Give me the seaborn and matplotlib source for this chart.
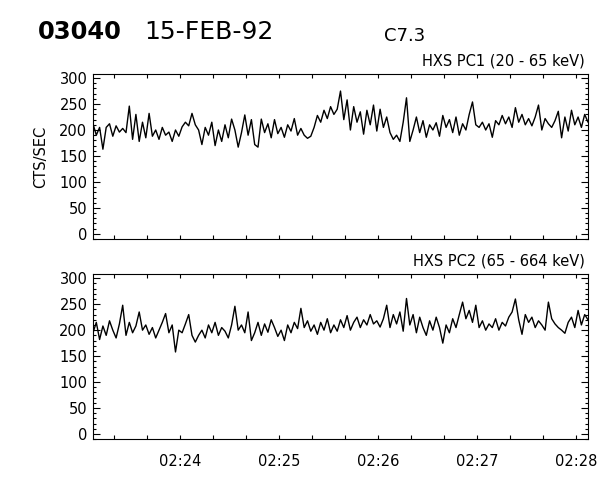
import numpy as np
import pandas as pd
import matplotlib
matplotlib.use('Agg')
import matplotlib.pyplot as plt
import seaborn as sns
from matplotlib.ticker import MultipleLocator, FuncFormatter

# header / panel text
orbit = '03040'
date = '15-FEB-92'
goes_class = 'C7.3'
title_pc1 = 'HXS PC1 (20 - 65 keV)'
title_pc2 = 'HXS PC2 (65 - 664 keV)'

# count rates (cts/sec), 2 s bins starting 02:23:07
pc1 = [212, 190, 205, 163, 205, 212, 188, 208, 196, 203,
       195, 246, 182, 230, 178, 215, 185, 232, 188, 200,
       182, 205, 190, 196, 178, 200, 188, 206, 215, 208,
       232, 210, 200, 172, 205, 190, 215, 170, 200, 178,
       210, 185, 221, 200, 167, 195, 229, 190, 220, 172,
       167, 221, 195, 212, 185, 220, 193, 205, 186, 210,
       198, 222, 190, 203, 190, 184, 188, 205, 228, 215,
       238, 222, 245, 230, 240, 275, 220, 258, 200, 245,
       215, 235, 192, 238, 210, 248, 198, 240, 205, 225,
       195, 182, 190, 178, 215, 262, 178, 200, 225, 195,
       218, 186, 210, 200, 214, 188, 228, 205, 220, 195,
       225, 190, 212, 200, 230, 254, 210, 205, 215, 200,
       212, 186, 218, 210, 228, 212, 225, 205, 243, 215,
       230, 210, 222, 208, 225, 248, 200, 222, 212, 205,
       218, 236, 185, 225, 198, 238, 210, 225, 205, 230,
       215]

pc2 = [195, 215, 182, 208, 190, 218, 200, 185, 212, 248,
       190, 215, 195, 208, 235, 200, 210, 192, 205, 185,
       200, 215, 232, 195, 210, 158, 200, 195, 212, 230,
       190, 177, 190, 200, 185, 210, 195, 215, 190, 205,
       198, 185, 210, 246, 200, 210, 195, 235, 180, 195,
       215, 190, 212, 196, 220, 205, 188, 200, 180, 210,
       195, 215, 203, 242, 205, 218, 198, 210, 192, 215,
       200, 222, 195, 210, 198, 220, 205, 228, 200, 215,
       225, 205, 220, 210, 230, 212, 218, 206, 222, 248,
       205, 230, 212, 235, 198, 261, 210, 230, 195, 225,
       205, 190, 218, 200, 225, 205, 175, 210, 195, 222,
       205, 230, 254, 222, 238, 215, 248, 205, 218, 200,
       212, 205, 222, 200, 215, 208, 225, 235, 260, 220,
       192, 230, 215, 225, 205, 218, 210, 200, 254, 222,
       212, 205, 200, 194, 215, 225, 205, 238, 210, 230,
       220]

t0 = 7      # seconds after 02:23:00
step = 2

sns.set_style('ticks')
plt.rcParams['font.family'] = ['DejaVu Sans']
plt.rcParams['text.color'] = 'black'
plt.rcParams['axes.labelcolor'] = 'black'
plt.rcParams['xtick.color'] = 'black'
plt.rcParams['ytick.color'] = 'black'

fig = plt.figure(figsize=(6, 4.8), dpi=100, facecolor='white')
ax1 = fig.add_axes([0.155, 0.502, 0.825, 0.344])
ax2 = fig.add_axes([0.155, 0.085, 0.825, 0.344])


def minute_label(v, pos):
    return '02:%02d' % (23 + int(round(v / 60)))


for ax, vals in [(ax1, pc1), (ax2, pc2)]:
    df = pd.DataFrame({'t': t0 + step * np.arange(len(vals)), 'rate': vals})
    sns.lineplot(data=df, x='t', y='rate', ax=ax, color='black', linewidth=1.0)
    ax.set_xlim(7, 307)
    ax.set_ylim(-10, 308)
    ax.set_xlabel('')
    ax.set_ylabel('')
    ax.yaxis.set_major_locator(MultipleLocator(50))
    ax.yaxis.set_minor_locator(MultipleLocator(10))
    ax.xaxis.set_major_locator(MultipleLocator(60))
    ax.xaxis.set_minor_locator(MultipleLocator(20))
    ax.xaxis.set_major_formatter(FuncFormatter(minute_label))
    ax.tick_params(which='both', direction='in', top=True, right=True,
                   width=0.8, colors='black', labelsize=10.5)
    ax.tick_params(axis='y', which='major', length=5, pad=4)
    ax.tick_params(axis='y', which='minor', length=2.5)
    ax.tick_params(axis='x', which='both', length=3, pad=11)
    for s in ax.spines.values():
        s.set_linewidth(0.8)
        s.set_color('black')

ax1.tick_params(labelbottom=False)
ax1.set_ylabel('CTS/SEC', fontsize=10.5, labelpad=8, color='black')

fig.text(0.063, 0.933, orbit, fontsize=17.5, fontweight='bold', va='center', color='black')
fig.text(0.24, 0.933, date, fontsize=18, va='center', color='black')
fig.text(0.64, 0.925, goes_class, fontsize=13, va='center', color='black')
fig.text(0.975, 0.857, title_pc1, fontsize=10.5, ha='right', va='bottom', color='black')
fig.text(0.975, 0.44, title_pc2, fontsize=10.5, ha='right', va='bottom', color='black')

fig.savefig('out.png', dpi=100, facecolor='white')
